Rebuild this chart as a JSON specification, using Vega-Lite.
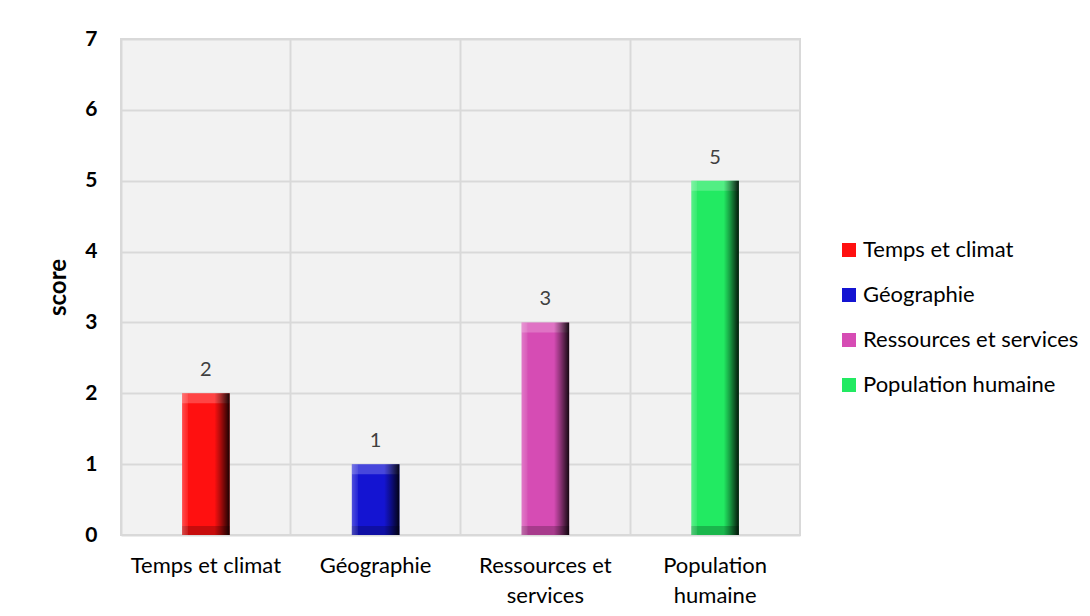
{
  "$schema": "https://vega.github.io/schema/vega-lite/v6.json",
  "width": 679,
  "height": 496,
  "autosize": "none",
  "padding": {"left": 121, "top": 39, "right": 290, "bottom": 81},
  "background": "white",
  "config": {
    "font": "Lato",
    "view": {"stroke": "#d9d9d9", "strokeWidth": 2, "fill": "#f2f2f2"}
  },
  "data": {
    "values": [
      {"theme": "Temps et climat", "score": 2},
      {"theme": "Géographie", "score": 1},
      {"theme": "Ressources et services", "score": 3},
      {"theme": "Population humaine", "score": 5}
    ]
  },
  "encoding": {
    "x": {
      "field": "theme",
      "type": "nominal",
      "sort": null,
      "scale": {"paddingInner": 0, "paddingOuter": 0},
      "axis": {
        "title": null,
        "labelAngle": 0,
        "ticks": false,
        "domain": false,
        "grid": true,
        "gridColor": "#d9d9d9",
        "gridWidth": 2,
        "bandPosition": 0,
        "labelFontSize": 22,
        "labelColor": "#000000",
        "labelPadding": 37,
        "labelLineHeight": 30,
        "labelBaseline": "alphabetic",
        "labelExpr": "datum.label == 'Ressources et services' ? ['Ressources et', 'services'] : datum.label == 'Population humaine' ? ['Population', 'humaine'] : datum.label"
      }
    },
    "y": {
      "field": "score",
      "type": "quantitative",
      "scale": {"domain": [0, 7]},
      "axis": {
        "title": "score",
        "titleFontSize": 24,
        "titleFontWeight": "bold",
        "titleColor": "#000000",
        "titlePadding": 14,
        "labelFontSize": 21,
        "labelFontWeight": "bold",
        "labelColor": "#000000",
        "labelPadding": 24,
        "ticks": false,
        "domain": false,
        "tickCount": 7,
        "gridColor": "#d9d9d9",
        "gridWidth": 2
      }
    }
  },
  "layer": [
    {
      "mark": {"type": "bar", "width": {"band": 0.28}},
      "encoding": {
        "color": {
          "field": "theme",
          "type": "nominal",
          "sort": null,
          "scale": {"range": ["#ff1010", "#1414d2", "#d64cb4", "#22ea62"]},
          "legend": {
            "orient": "none",
            "legendX": 717,
            "legendY": 200,
            "title": null,
            "symbolType": "square",
            "symbolSize": 196,
            "symbolStrokeWidth": 0,
            "labelFontSize": 22,
            "labelLimit": 400,
            "labelColor": "#000000",
            "labelOffset": 3,
            "rowPadding": 23
          }
        }
      }
    },
    {
      "mark": {"type": "bar", "width": {"band": 0.28}, "y2Offset": 10, "fill": "rgba(255,255,255,0.22)"},
      "encoding": {"y2": {"field": "score"}}
    },
    {
      "mark": {"type": "bar", "width": {"band": 0.28}, "yOffset": -9, "fill": "rgba(0,0,0,0.22)"},
      "encoding": {"y": {"datum": 0, "type": "quantitative"}, "y2": {"datum": 0}}
    },
    {
      "mark": {
        "type": "bar",
        "width": {"band": 0.28},
        "fill": {
          "gradient": "linear",
          "x1": 0, "y1": 0, "x2": 1, "y2": 0,
          "stops": [
            {"offset": 0, "color": "rgba(255,255,255,0.25)"},
            {"offset": 0.12, "color": "rgba(255,255,255,0.08)"},
            {"offset": 0.14, "color": "rgba(0,0,0,0)"},
            {"offset": 0.68, "color": "rgba(0,0,0,0)"},
            {"offset": 0.8, "color": "rgba(0,0,0,0.3)"},
            {"offset": 1, "color": "rgba(0,0,0,0.9)"}
          ]
        }
      }
    },
    {
      "mark": {"type": "text", "baseline": "alphabetic", "dy": -17, "fontSize": 20, "color": "#404040"},
      "encoding": {"text": {"field": "score", "type": "quantitative"}}
    }
  ]
}
